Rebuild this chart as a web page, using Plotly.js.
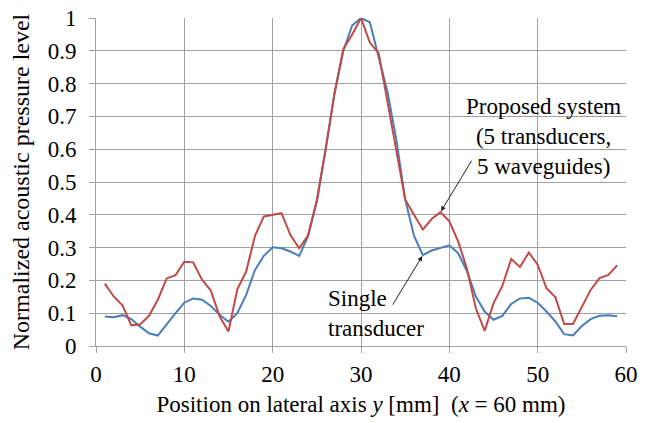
<!DOCTYPE html>
<html>
<head>
<meta charset="utf-8">
<script src="https://cdn.plot.ly/plotly-3.0.1.min.js"></script>
<style>
  html, body { margin: 0; padding: 0; background: #fff; }
  #chart { width: 647px; height: 423px; }
</style>
</head>
<body>
<div id="chart"></div>
<script>
// Lateral position along y (mm)
const positionMm = [
  1, 2, 3, 4, 5, 6, 7, 8, 9, 10,
  11, 12, 13, 14, 15, 16, 17, 18, 19, 20,
  21, 22, 23, 24, 25, 26, 27, 28, 29, 30,
  31, 32, 33, 34, 35, 36, 37, 38, 39, 40,
  41, 42, 43, 44, 45, 46, 47, 48, 49, 50,
  51, 52, 53, 54, 55, 56, 57, 58, 59
];

// Single transducer, normalized pressure
const singleTransducer = [
  0.090, 0.088, 0.094, 0.082, 0.059, 0.039, 0.032, 0.067, 0.100, 0.132,
  0.145, 0.141, 0.122, 0.095, 0.074, 0.100, 0.156, 0.232, 0.275, 0.301,
  0.298, 0.288, 0.275, 0.334, 0.440, 0.600, 0.770, 0.900, 0.977, 1.000,
  0.987, 0.880, 0.775, 0.630, 0.447, 0.336, 0.277, 0.291, 0.298, 0.307,
  0.283, 0.228, 0.151, 0.105, 0.080, 0.092, 0.128, 0.145, 0.147, 0.132,
  0.105, 0.075, 0.036, 0.032, 0.061, 0.082, 0.092, 0.094, 0.091
];

// Proposed system (5 transducers, 5 waveguides), normalized pressure
const proposedSystem = [
  0.190, 0.151, 0.124, 0.063, 0.066, 0.092, 0.141, 0.206, 0.216, 0.257,
  0.255, 0.202, 0.169, 0.090, 0.044, 0.173, 0.227, 0.336, 0.395, 0.400,
  0.405, 0.339, 0.298, 0.337, 0.445, 0.600, 0.770, 0.905, 0.950, 1.000,
  0.925, 0.893, 0.740, 0.600, 0.447, 0.400, 0.355, 0.387, 0.408, 0.380,
  0.319, 0.235, 0.115, 0.046, 0.130, 0.183, 0.265, 0.241, 0.285, 0.248,
  0.176, 0.149, 0.067, 0.067, 0.120, 0.171, 0.207, 0.217, 0.246
];

const xTicks = [0, 10, 20, 30, 40, 50, 60];
const yTicks = [0, 0.1, 0.2, 0.3, 0.4, 0.5, 0.6, 0.7, 0.8, 0.9, 1];
const yTickText = ['0', '0.1', '0.2', '0.3', '0.4', '0.5', '0.6', '0.7', '0.8', '0.9', '1'];

const proposedLabel = 'Proposed system<br>(5 transducers,<br>5 waveguides)';
const singleLabel = 'Single<br>transducer';
const proposedArrowAt = 39;
const singleArrowAt = 37;

const fontName = 'Liberation Serif';
const gridColor = '#a0a0a0';
const textFont = { family: fontName, size: 23, color: '#000' };

const traces = [
  {
    x: positionMm, y: singleTransducer, type: 'scatter', mode: 'lines',
    name: 'Single transducer',
    line: { color: '#4A7EBB', width: 2 }
  },
  {
    x: positionMm, y: proposedSystem, type: 'scatter', mode: 'lines',
    name: 'Proposed system',
    line: { color: '#BE4B48', width: 2 }
  }
];

const pIdx = positionMm.indexOf(proposedArrowAt);
const sIdx = positionMm.indexOf(singleArrowAt);

const layout = {
  width: 647, height: 423,
  margin: { l: 96, r: 21, t: 18, b: 77 },
  paper_bgcolor: '#fff', plot_bgcolor: '#fff',
  showlegend: false,
  font: textFont,
  xaxis: {
    range: [0, 60], tickvals: xTicks, ticktext: xTicks.map(String),
    showgrid: true, gridcolor: gridColor, gridwidth: 1,
    zeroline: false, showline: true, linecolor: gridColor, linewidth: 1,
    ticks: 'outside', ticklen: 6, tickcolor: gridColor,
    ticklabelstandoff: 1,
    tickfont: textFont,
    title: {
      text: 'Position on lateral axis <i>y</i> [mm]\u00a0\u00a0(<i>x</i> = 60 mm)',
      font: textFont,
      standoff: 10
    },
    fixedrange: true
  },
  yaxis: {
    range: [0, 1], tickvals: yTicks, ticktext: yTickText,
    showgrid: true, gridcolor: gridColor, gridwidth: 1,
    zeroline: false, showline: true, linecolor: gridColor, linewidth: 1,
    ticks: 'outside', ticklen: 6, tickcolor: gridColor,
    ticklabelstandoff: 8,
    tickfont: textFont,
    title: {
      text: 'Normalized acoustic pressure level',
      font: { family: fontName, size: 24, color: '#000' },
      standoff: 11
    },
    fixedrange: true
  },
  annotations: [
    {
      x: 50.7, y: 0.64, xref: 'x', yref: 'y',
      text: proposedLabel, showarrow: false, align: 'center',
      xanchor: 'center', yanchor: 'middle',
      font: textFont
    },
    {
      x: 26.0, y: 0.098, xref: 'x', yref: 'y',
      text: singleLabel, showarrow: false, align: 'left',
      xanchor: 'left', yanchor: 'middle',
      font: textFont
    },
    {
      x: proposedArrowAt, y: proposedSystem[pIdx], xref: 'x', yref: 'y',
      text: '', showarrow: true, arrowhead: 2, arrowsize: 1, arrowwidth: 1,
      arrowcolor: '#222', ax: 32, ay: -53, standoff: 1
    },
    {
      x: singleArrowAt, y: singleTransducer[sIdx], xref: 'x', yref: 'y',
      text: '', showarrow: true, arrowhead: 2, arrowsize: 1, arrowwidth: 1,
      arrowcolor: '#222', ax: -31, ay: 51, standoff: 1
    }
  ]
};

Plotly.newPlot('chart', traces, layout, { displayModeBar: false, staticPlot: true });
</script>
</body>
</html>
